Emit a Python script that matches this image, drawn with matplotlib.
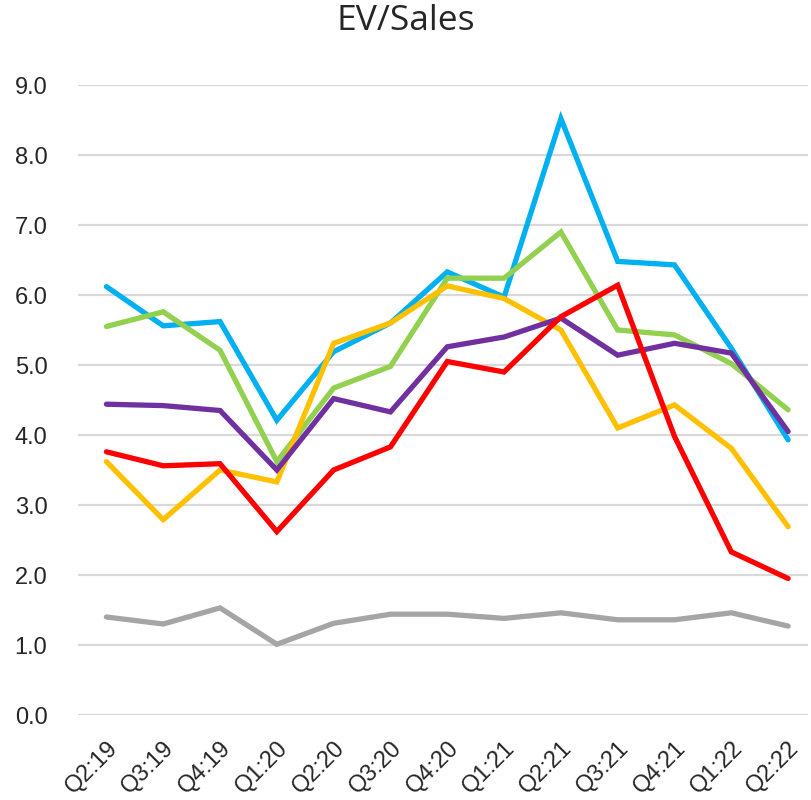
import numpy as np
import matplotlib.pyplot as plt

quarters = ['Q2:19', 'Q3:19', 'Q4:19', 'Q1:20', 'Q2:20', 'Q3:20', 'Q4:20',
            'Q1:21', 'Q2:21', 'Q3:21', 'Q4:21', 'Q1:22', 'Q2:22']

blue   = [6.12, 5.56, 5.62, 4.21, 5.19, 5.60, 6.33, 5.97, 8.52, 6.48, 6.43, 5.24, 3.93]
green  = [5.55, 5.76, 5.21, 3.62, 4.67, 4.98, 6.24, 6.24, 6.90, 5.50, 5.43, 5.02, 4.36]
yellow = [3.62, 2.79, 3.50, 3.33, 5.31, 5.60, 6.13, 5.95, 5.50, 4.10, 4.43, 3.81, 2.69]
purple = [4.44, 4.42, 4.35, 3.50, 4.52, 4.33, 5.26, 5.40, 5.67, 5.14, 5.31, 5.17, 4.05]
red    = [3.76, 3.56, 3.59, 2.62, 3.50, 3.83, 5.05, 4.90, 5.69, 6.14, 3.98, 2.33, 1.95]
gray   = [1.40, 1.30, 1.53, 1.01, 1.31, 1.44, 1.44, 1.38, 1.46, 1.36, 1.36, 1.46, 1.27]

series = [(blue, '#00B0F0'), (green, '#92D050'), (yellow, '#FFC000'),
          (purple, '#7030A0'), (red, '#FF0000'), (gray, '#A5A5A5')]

fig = plt.figure(figsize=(8.11, 8.0), dpi=100)
ax = fig.add_axes([78/811, 85/800, 730/811, 630/800])

x = np.arange(len(quarters))
for vals, col in series:
    ax.plot(x, vals, color=col, linewidth=3.8, solid_capstyle='round', solid_joinstyle='miter')

ax.set_xlim(-0.5, 12.35)
ax.set_ylim(0, 9)
ax.set_yticks(np.arange(0, 10, 1))
ax.set_yticklabels([f'{v:.1f}' for v in range(10)], fontsize=17, family='Liberation Sans')
ax.set_xticks(x)
# labels run off the bottom edge in the original too
ax.set_xticklabels(quarters, fontsize=17, family='Liberation Sans', rotation=45,
                   ha='right', rotation_mode='anchor')
ax.tick_params(axis='both', length=0, colors='#262626')
ax.tick_params(axis='y', pad=22)
ax.tick_params(axis='x', pad=16)

ax.grid(axis='y', color='#D9D9D9', linewidth=1.6)
ax.set_axisbelow(True)
for s in ax.spines.values():
    s.set_visible(False)

fig.text(0.5, 1 - 21/800, 'EV/Sales', ha='center', va='center', fontsize=25.5,
         family='Open Sans', color='#262626')

plt.savefig('out.png', dpi=100)
